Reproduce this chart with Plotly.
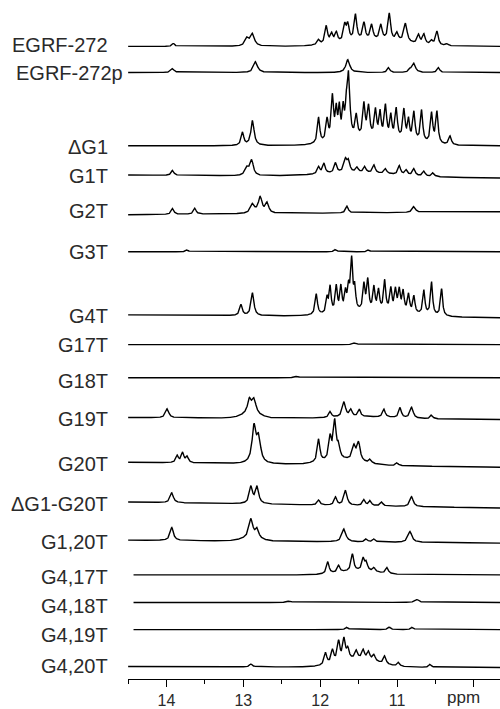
import numpy as np
import plotly.graph_objects as go

# ---------------- data ----------------
labels = ["EGRF-272", "EGRF-272p", "ΔG1", "G1T", "G2T", "G3T", "G4T", "G17T",
          "G18T", "G19T", "G20T", "ΔG1-G20T", "G1,20T", "G4,17T", "G4,18T",
          "G4,19T", "G4,20T"]

# peaks: (ppm, intensity, half-width ppm)  -- Lorentzian lines
peaks_egrf272 = [(13.91, 3, 0.02), (12.95, 8, 0.03), (12.88, 12, 0.03), (12.02, 5, 0.02),
                 (11.92, 18, 0.02), (11.85, 9, 0.02), (11.79, 10, 0.02), (11.68, 16, 0.02),
                 (11.64, 16, 0.02), (11.54, 26, 0.02), (11.43, 17, 0.02), (11.33, 15, 0.02),
                 (11.21, 15, 0.02), (11.10, 27, 0.02), (11.00, 8, 0.02), (10.89, 19, 0.025),
                 (10.72, 9, 0.02), (10.65, 10, 0.02), (10.55, 4, 0.02), (10.48, 14, 0.02),
                 (10.35, 2, 0.02)]
peaks_egrf272p = [(13.92, 4, 0.025), (12.84, 11, 0.03), (11.64, 13, 0.03), (11.11, 5, 0.02),
                  (10.83, 3, 0.02), (10.78, 9, 0.025), (10.46, 5, 0.02)]
peaks_dg1 = [(13.01, 13, 0.02), (12.88, 25, 0.025), (12.02, 26, 0.018), (11.91, 22, 0.018),
             (11.84, 44, 0.018), (11.79, 28, 0.015), (11.75, 30, 0.015), (11.70, 28, 0.015),
             (11.66, 26, 0.015), (11.63, 62, 0.02), (11.53, 22, 0.018), (11.43, 33, 0.018),
             (11.37, 30, 0.018), (11.28, 27, 0.018), (11.22, 24, 0.015), (11.15, 32, 0.018),
             (11.08, 22, 0.015), (11.01, 30, 0.018), (10.91, 30, 0.018), (10.85, 20, 0.015),
             (10.78, 29, 0.018), (10.68, 32, 0.018), (10.55, 30, 0.018), (10.48, 32, 0.018),
             (10.31, 9, 0.02)]
peaks_g1t = [(13.92, 5, 0.02), (12.95, 8, 0.03), (12.89, 15, 0.025), (12.02, 7, 0.02),
             (11.95, 10, 0.02), (11.80, 10, 0.02), (11.67, 13, 0.025), (11.63, 10, 0.02),
             (11.52, 5, 0.02), (11.42, 6, 0.02), (11.30, 8, 0.02), (11.15, 5, 0.02),
             (10.97, 9, 0.02), (10.88, 5, 0.02), (10.78, 7, 0.02), (10.65, 5, 0.02),
             (10.53, 4, 0.02)]
peaks_g2t = [(13.92, 6, 0.02), (13.63, 6, 0.02), (12.88, 9, 0.03), (12.78, 16, 0.03),
             (12.69, 10, 0.025), (11.65, 7, 0.02), (10.78, 6, 0.025)]
peaks_g3t = [(13.73, 2, 0.02), (11.80, 2.5, 0.02), (11.37, 2, 0.02)]
peaks_g4t = [(13.03, 11, 0.02), (12.88, 23, 0.022), (12.05, 21, 0.018), (11.91, 15, 0.015),
             (11.87, 26, 0.016), (11.79, 26, 0.016), (11.73, 25, 0.016), (11.67, 18, 0.015),
             (11.63, 22, 0.016), (11.59, 50, 0.016), (11.55, 22, 0.015), (11.43, 26, 0.016),
             (11.38, 30, 0.016), (11.30, 23, 0.016), (11.24, 20, 0.016), (11.16, 30, 0.016),
             (11.08, 22, 0.016), (11.02, 21, 0.016), (10.97, 21, 0.016), (10.92, 20, 0.016),
             (10.85, 18, 0.016), (10.78, 17, 0.016), (10.65, 24, 0.016), (10.55, 33, 0.016),
             (10.42, 27, 0.016)]
peaks_g17t = [(11.55, 2, 0.03)]
peaks_g18t = [(12.3, 1.5, 0.03)]
peaks_g19t = [(13.99, 9, 0.025), (12.92, 14, 0.03), (12.86, 14, 0.03), (11.87, 6, 0.02),
              (11.69, 15, 0.025), (11.60, 7, 0.02), (11.49, 7, 0.02), (11.17, 8, 0.02),
              (10.96, 10, 0.02), (10.81, 11, 0.025), (10.55, 4, 0.02)]
peaks_g20t = [(13.86, 7, 0.02), (13.79, 10, 0.02), (13.73, 6, 0.02), (12.86, 36, 0.03),
              (12.80, 24, 0.03), (12.02, 23, 0.02), (11.87, 22, 0.02), (11.81, 38, 0.022),
              (11.76, 12, 0.02), (11.56, 14, 0.025), (11.50, 18, 0.025), (11.35, 4, 0.02),
              (11.00, 3, 0.02)]
peaks_dg1g20t = [(13.93, 10, 0.025), (12.90, 17, 0.025), (12.82, 17, 0.025), (12.02, 5, 0.02),
                 (11.80, 8, 0.02), (11.67, 15, 0.025), (11.43, 6, 0.02), (11.35, 5, 0.02),
                 (11.20, 4, 0.02), (10.81, 10, 0.025)]
peaks_g120t = [(13.93, 13, 0.025), (12.90, 19, 0.03), (12.82, 9, 0.025), (11.69, 13, 0.03),
               (11.40, 3, 0.02), (11.30, 3, 0.02), (10.83, 11, 0.03)]
peaks_g417t = [(11.90, 12, 0.02), (11.76, 7, 0.02), (11.58, 17, 0.02), (11.44, 12, 0.02),
               (11.40, 8, 0.02), (11.30, 4, 0.02), (11.13, 6, 0.02)]
peaks_g418t = [(10.74, 3, 0.03), (12.4, 1.5, 0.03)]
peaks_g419t = [(11.65, 2.5, 0.02), (11.10, 2.5, 0.02), (10.80, 2.5, 0.02)]
peaks_g420t = [(12.90, 3, 0.02), (11.93, 12, 0.02), (11.84, 13, 0.02), (11.76, 20, 0.02),
               (11.69, 21, 0.02), (11.64, 10, 0.02), (11.53, 8, 0.02), (11.44, 9, 0.02),
               (11.37, 8, 0.02), (11.30, 6, 0.02), (11.16, 8, 0.02), (10.98, 4, 0.02),
               (10.57, 3, 0.02)]

# broad envelopes: (ppm, intensity, sigma ppm) -- Gaussian
broad_egrf272 = [(11.3, 6, 0.4)]
broad_egrf272p = []
broad_dg1 = [(11.3, 7, 0.4)]
broad_g1t = [(11.5, 4, 0.5)]
broad_g2t = []
broad_g3t = []
broad_g4t = [(11.25, 5, 0.45)]
broad_g17t = []
broad_g18t = []
broad_g19t = [(12.9, 4, 0.12), (11.4, 2, 0.4)]
broad_g20t = [(11.7, 5, 0.25)]
broad_dg1g20t = []
broad_g120t = [(12.9, 3, 0.12)]
broad_g417t = [(11.5, 4, 0.25)]
broad_g418t = []
broad_g419t = []
broad_g420t = [(11.5, 8, 0.25)]

# baseline change from left edge to right edge (intensity units)
baseline_drift = [0, 0, 0, -3, 3, 0, -3, 0, 0, -2, -5, -6, -3, 0, 0, 0, -1]

all_peaks = [peaks_egrf272, peaks_egrf272p, peaks_dg1, peaks_g1t, peaks_g2t, peaks_g3t,
             peaks_g4t, peaks_g17t, peaks_g18t, peaks_g19t, peaks_g20t, peaks_dg1g20t,
             peaks_g120t, peaks_g417t, peaks_g418t, peaks_g419t, peaks_g420t]
all_broad = [broad_egrf272, broad_egrf272p, broad_dg1, broad_g1t, broad_g2t, broad_g3t,
             broad_g4t, broad_g17t, broad_g18t, broad_g19t, broad_g20t, broad_dg1g20t,
             broad_g120t, broad_g417t, broad_g418t, broad_g419t, broad_g420t]

tick_vals = [14, 13, 12, 11, 10]
tick_text = ["14", "13", "12", "11", ""]
unit_label = "ppm"

# ---------------- layout (stacking) ----------------
PLOT_H = 683
baseline_px = [46.7, 73, 146.7, 176, 216, 253.3, 316.7, 346.7, 380, 420, 465, 505, 543.3,
               578.3, 606, 633.3, 670.5]
label_px = [44.8, 73.3, 147.5, 177.5, 212, 253.7, 317.5, 347.5, 383.7, 421.5, 467, 507,
            545.3, 580.3, 610, 638.8, 670.3]
start_ppm = [14.5] * 13 + [14.43, 14.43, 14.43, 14.5]
X_LEFT, X_RIGHT = 14.5, 9.66

ppm = np.arange(X_RIGHT, X_LEFT + 1e-9, 0.002)

fig = go.Figure()
for i, name in enumerate(labels):
    inten = np.zeros_like(ppm)
    for c, h, w in all_peaks[i]:
        inten += h / (1 + ((ppm - c) / w) ** 2)
    for c, h, s in all_broad[i]:
        inten += h * np.exp(-0.5 * ((ppm - c) / s) ** 2)
    inten += baseline_drift[i] * (X_LEFT - ppm) / (X_LEFT - X_RIGHT)
    m = ppm <= start_ppm[i]
    fig.add_trace(go.Scatter(x=ppm[m], y=(PLOT_H - baseline_px[i]) + inten[m],
                             mode="lines", line=dict(color="black", width=1.4),
                             hoverinfo="skip", showlegend=False))

L_MARGIN = 128
plot_w = 500 - L_MARGIN
FONT = "Liberation Sans, Arial"
for i, name in enumerate(labels):
    if name == "EGRF-272p":
        fig.add_annotation(x=(14 - L_MARGIN) / plot_w, xref="paper", xanchor="left",
                           y=PLOT_H - label_px[i], yref="y", yanchor="middle",
                           text=name, showarrow=False,
                           font=dict(family=FONT, size=20, color="#2a2a2a"))
    else:
        fig.add_annotation(x=(110 - L_MARGIN) / plot_w, xref="paper", xanchor="right",
                           y=PLOT_H - label_px[i], yref="y", yanchor="middle",
                           text=name, showarrow=False,
                           font=dict(family=FONT, size=20, color="#2a2a2a"))

# unit label on the axis
fig.add_annotation(x=10.13, xref="x", y=-19 / PLOT_H, yref="paper",
                   yanchor="middle", xanchor="center",
                   text=unit_label, showarrow=False,
                   font=dict(family=FONT, size=17, color="#2a2a2a"))

fig.update_layout(
    width=500, height=709,
    margin=dict(l=L_MARGIN, r=0, t=0, b=26),
    plot_bgcolor="white", paper_bgcolor="white",
    xaxis=dict(range=[X_LEFT, X_RIGHT], showgrid=False, zeroline=False,
               showline=True, linecolor="black", linewidth=1,
               ticks="outside", ticklen=7, tickwidth=1, tickcolor="black",
               tickvals=tick_vals, ticktext=tick_text,
               tickfont=dict(family=FONT, size=16, color="#2a2a2a"),
               minor=dict(tickvals=[14.5, 13.5, 12.5, 11.5, 10.5], ticks="outside",
                          ticklen=4, tickwidth=1, tickcolor="black", showgrid=False)),
    yaxis=dict(range=[0, PLOT_H], visible=False, showgrid=False, zeroline=False),
)

fig.write_html("out.html", config={"displayModeBar": False},
               post_script="document.body.style.margin='0';document.body.style.overflow='hidden';")
